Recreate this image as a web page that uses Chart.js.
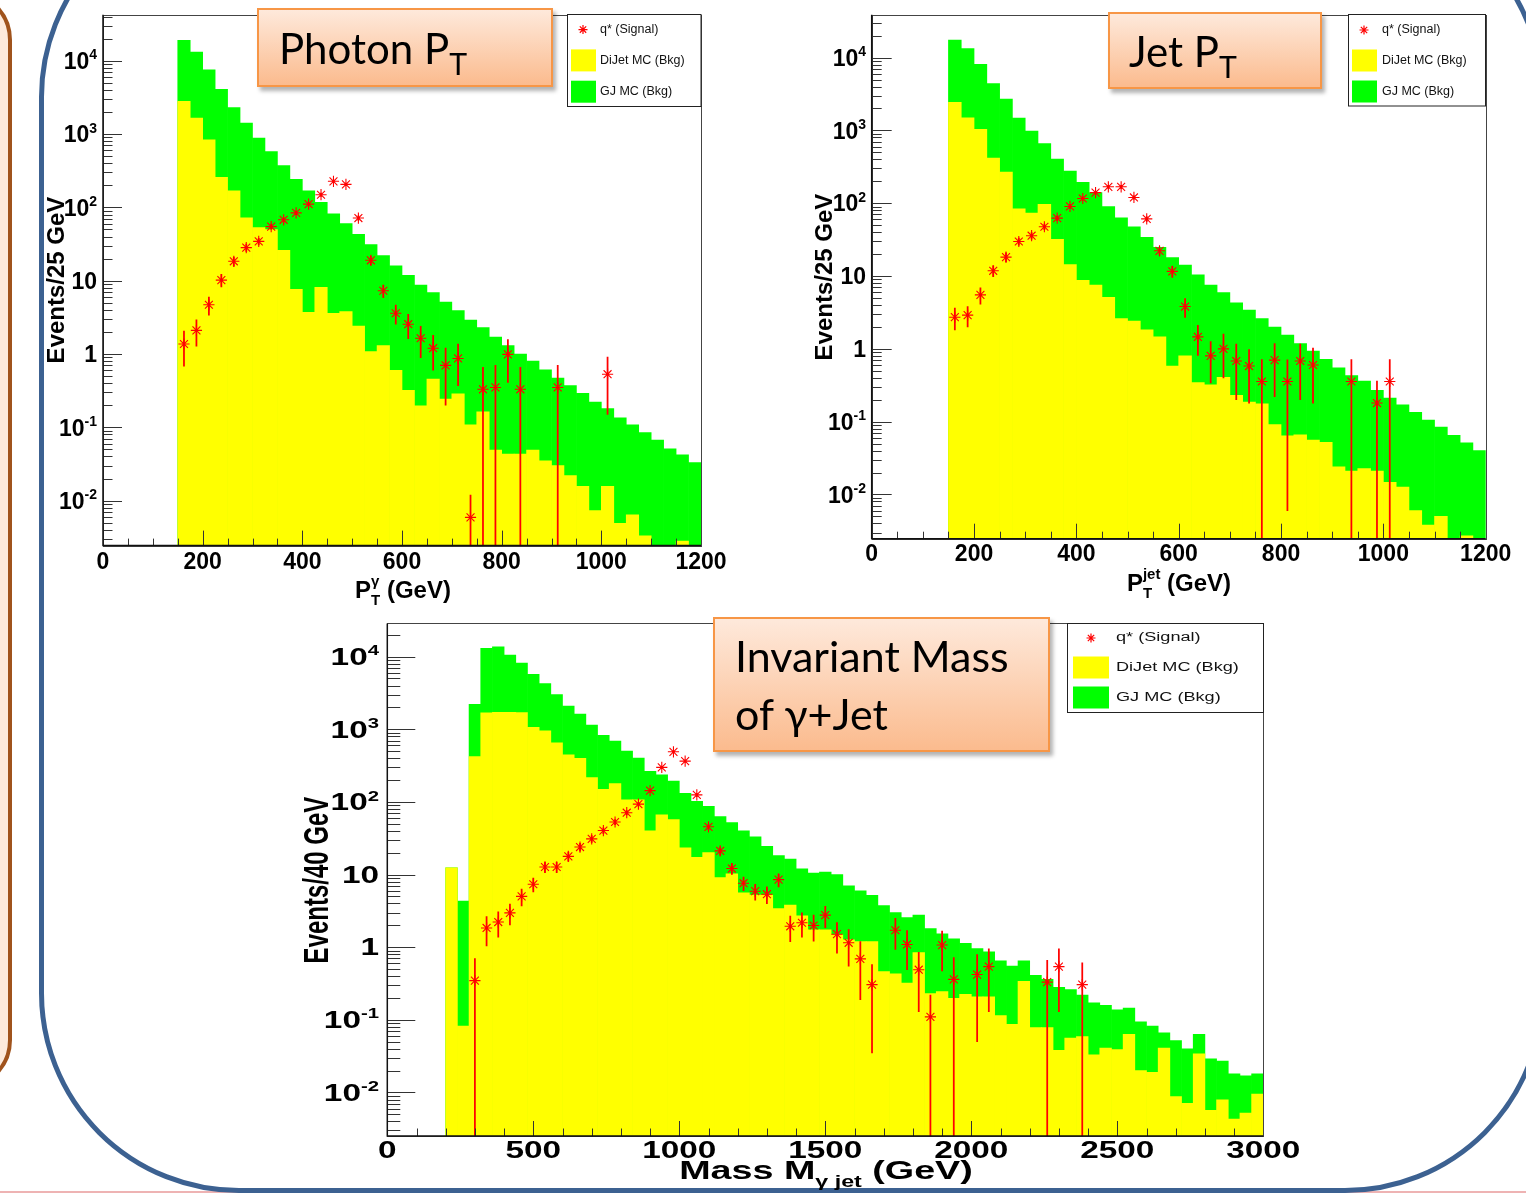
<!DOCTYPE html>
<html>
<head>
<meta charset="utf-8">
<script src="https://cdn.jsdelivr.net/npm/chart.js@4.4.1/dist/chart.umd.min.js"></script>
<style>
	body { margin: 0; width: 1526px; height: 1193px; overflow: hidden; background: #fff; position: relative; }
	canvas { position: absolute; left: 0; top: 0; }
	.side { position: absolute; left: -200px; top: -10px; width: 204px; height: 1092px; border: 4px solid #a0531c; border-radius: 50px; background: #fdeadb; box-sizing: content-box; }
	.frame { position: absolute; left: 39px; top: -103px; width: 1496px; height: 1286px; border: 5px solid #3c6191; border-radius: 200px; }
	.pink { position: absolute; left: 0; top: 1191px; width: 1526px; height: 2px; background: #eeb3b3; }
	.tag { position: absolute; box-sizing: border-box; border: 2px solid #f79646; background: linear-gradient(#fee9db, #fbbb8e); box-shadow: 3px 4px 4px rgba(0, 0, 0, 0.3); font-family: Lato, "Open Sans", sans-serif; color: #000; z-index: 5; display: flex; align-items: center; }
	.tag sub { font-size: 0.72em; vertical-align: -0.36em; line-height: 0; }
</style>
</head>
<body>
<div class="side"></div>
<div class="pink"></div>
<div class="frame"></div>
<canvas id="photonChart" width="1526" height="1193"></canvas>
<canvas id="jetChart" width="1526" height="1193"></canvas>
<canvas id="massChart" width="1526" height="1193"></canvas>
<div class="tag" style="left:257px; top:8px; width:296px; height:79px; padding-left:20px; font-size:42px;"><span>Photon P<sub>T</sub></span></div>
<div class="tag" style="left:1108px; top:12px; width:214px; height:77px; padding-left:19px; font-size:42px;"><span>Jet P<sub>T</sub></span></div>
<div class="tag" style="left:713px; top:617px; width:337px; height:135px; padding-left:20px; font-size:43px; line-height:58px;"><span>Invariant Mass<br>of γ+Jet</span></div>
<script>
// ---- Photon pT: 25 GeV bins starting at 150 GeV ----
const photonBinStart = 150;
const photonBinWidth = 25;
const photonTotal = [19100, 13200, 7550, 4080, 2300, 1420, 883, 580, 373, 242, 168, 117, 82, 60, 43, 31, 22, 16,
	11.8, 8.7, 6.9, 5.1, 3.9, 2.9, 2.3, 1.7, 1.3, 1.0, 0.80, 0.61, 0.47, 0.37, 0.29, 0.22, 0.18, 0.135, 0.108, 0.085,
	0.067, 0.051, 0.042, 0.033];
const photonDiJet = [2800, 1650, 837, 258, 168, 72, 53, 50, 26, 7.6, 3.7, 8.1, 3.6, 3.8, 2.4, 1.08, 1.3, 0.6,
	0.32, 0.196, 0.455, 0.243, 0.286, 0.108, 0.162, 0.049, 0.043, 0.043, 0.049, 0.035, 0.030, 0.022, 0.0156, 0.0073,
	0.0156, 0.0049, 0.0064, 0.0033, null, null, 0.0028, null];
const photonSignal = [1.37, 2.1, 4.7, 10.2, 18.4, 28.3, 34.4, 54.7, 67.8, 84.2, 111, 149, 227, 206, 71.6, 19, 7.3, 3.6,
	2.55, 1.64, 1.2, 0.70, 0.87, 0.0059, 0.33, 0.35, 0.99, 0.33, null, null, 0.35, null, null, null, 0.53, null, null,
	null, null, null, null, null];
const photonSignalErr = [0.69, 0.82, 1.3, 2.0, 2.6, 3.2, 3.5, 4.4, 4.9, 5.5, 6.3, 7.3, 9.0, 8.6, 5.1, 2.6, 1.45, 1.05,
	0.93, 0.75, 0.6, 0.5, 0.5, 0.006, 0.33, 0.35, 0.58, 0.33, null, null, 0.35, null, null, null, 0.38, null, null,
	null, null, null, null, null];

// ---- Jet pT: 25 GeV bins starting at 150 GeV ----
const jetBinStart = 150;
const jetBinWidth = 25;
const jetTotal = [17460, 13300, 8060, 4385, 2690, 1478, 977, 661, 405, 277, 193, 140, 90, 63, 47.5, 34, 24.7, 17.9,
	14.1, 10.4, 7.5, 5.9, 4.3, 3.4, 2.6, 1.99, 1.55, 1.18, 0.93, 0.72, 0.55, 0.43, 0.36, 0.27, 0.21, 0.17, 0.134,
	0.105, 0.084, 0.065, 0.051, 0.040];
const jetDiJet = [2440, 1494, 1032, 418, 268, 83.7, 73.4, 96.4, 31.8, 14.4, 8.7, 7.5, 5.1, 2.6, 2.4, 1.82, 1.46, 0.58,
	0.80, 0.344, 0.319, 0.405, 0.230, 0.185, 0.175, 0.091, 0.064, 0.066, 0.056, 0.052, 0.024, 0.021, 0.0227, 0.021,
	0.0147, 0.0126, 0.0060, 0.0038, 0.0050, null, 0.0027, null];
const jetSignal = [2.72, 2.9, 5.5, 11.8, 18.2, 29.8, 35.8, 47.5, 62.4, 90.3, 116, 140, 168, 168, 120, 61, 22.2, 11.6,
	3.81, 1.46, 0.80, 1.0, 0.68, 0.58, 0.356, 0.70, 0.356, 0.68, 0.60, null, null, 0.356, null, 0.18, 0.356, null,
	null, null, null, null, null, null];
const jetSignalErr = [0.9, 0.9, 1.4, 2.0, 2.6, 3.3, 3.6, 4.1, 4.7, 5.7, 6.5, 7.1, 7.8, 7.8, 6.6, 4.7, 2.8, 2.0,
	1.1, 0.65, 0.46, 0.6, 0.48, 0.4, 0.356, 0.48, 0.35, 0.48, 0.42, null, null, 0.356, null, 0.18, 0.356, null,
	null, null, null, null, null, null];

// ---- Invariant mass: 40 GeV bins starting at 200 GeV ----
const massBinStart = 200;
const massBinWidth = 40;
const massTotal = [12.4, 4.31, 2200, 13000, 13600, 10500, 8150, 5690, 4240, 2990, 2080, 1620, 1144, 825, 686, 500,
	402, 263, 236, 194, 131, 102, 87, 63, 52, 40, 33, 24.4, 18.2, 16.3, 12.0, 10.5, 10.8, 10.0, 7.0, 5.98, 5.19,
	3.74, 3.0, 2.55, 2.76, 1.80, 1.53, 1.30, 1.13, 0.96, 0.86, 0.65, 0.55, 0.65, 0.41, 0.36, 0.28, 0.26, 0.22,
	0.171, 0.158, 0.137, 0.145, 0.094, 0.082, 0.066, 0.052, 0.040, 0.063, 0.029, 0.027, 0.018, 0.017, 0.018];
const massDiJet = [12.4, 0.082, 420, 1676, 1714, 1714, 1690, 1061, 951, 650, 444, 397, 216, 149, 179, 107, 107, 40,
	66.5, 57, 23.4, 17.2, 20, 9.1, 10.2, 5.6, 5.2, 5.2, 3.4, 3.8, 2.7, 1.74, 1.74, 1.48, 1.26, 1.19, 1.19, 0.46,
	0.43, 0.32, 0.84, 0.23, 0.245, 0.197, 0.225, 0.208, 0.208, 0.114, 0.087, 0.34, 0.078, 0.078, 0.038, 0.056,
	0.059, 0.033, 0.041, 0.039, 0.063, 0.020, 0.019, 0.041, 0.0088, 0.0071, 0.034, 0.0057, 0.0079, 0.0043, 0.0052,
	0.0095];
const massSignal = [null, null, 0.347, 1.84, 2.22, 2.97, 5.0, 7.35, 12.7, 12.7, 17.8, 23.9, 31, 40.3, 52.9, 71, 93.3,
	143, 299, 489, 364, 125, 45.4, 21.2, 12.1, 7.6, 5.9, 5.36, 8.5, 1.94, 2.17, 1.99, 2.76, 1.51, 1.15, 0.69, 0.305,
	null, 1.71, 1.09, 0.49, 0.11, 1.07, 0.36, null, 0.42, 0.54, null, null, null, null, 0.33, 0.54, null, 0.305,
	null, null, null, null, null, null, null, null, null, null, null, null, null, null, null];
const massSignalErr = [null, null, 0.35, 0.8, 0.85, 0.95, 1.3, 1.6, 2.1, 2.1, 2.5, 2.9, 3.3, 3.8, 4.3, 5.0, 5.7,
	7.1, 10.3, 13.2, 11.4, 6.7, 4.0, 2.7, 2.1, 1.6, 1.45, 1.4, 1.75, 0.75, 0.8, 0.78, 0.9, 0.68, 0.6, 0.5, 0.27,
	null, 0.78, 0.6, 0.36, 0.11, 0.6, 0.36, null, 0.37, 0.41, null, null, null, null, 0.33, 0.41, null, 0.305,
	null, null, null, null, null, null, null, null, null, null, null, null, null, null, null];

const GREEN = "#00ff00";
const YELLOW = "#ffff00";
const RED = "#ff0000";
const FONT = '"Liberation Sans", Arial, Helvetica, sans-serif';

function binCenters(start, width, n) {
	const xs = [];
	for (let i = 0; i < n; i++) xs.push(start + width * (i + 0.5));
	return xs;
}

function histDatasets(start, width, total, dijet, signal, sigErr) {
	const xs = binCenters(start, width, total.length);
	const pick = (arr) => xs.map((x, i) => ({ x: x, y: arr[i] })).filter((p) => p.y !== null);
	const errs = [];
	xs.forEach((x, i) => {
		if (signal[i] === null) return;
		const lo = signal[i] - sigErr[i];
		errs.push({ x: x, y: [lo > 0 ? lo : 1e-6, signal[i] + sigErr[i]] });
	});
	const barOpts = { grouped: false, barPercentage: 1, categoryPercentage: 1, borderWidth: 0, clip: 0 };
	return [
		Object.assign({ type: "bar", label: "GJ MC (Bkg)", data: pick(total), backgroundColor: GREEN, order: 3 }, barOpts),
		Object.assign({ type: "bar", label: "DiJet MC (Bkg)", data: pick(dijet), backgroundColor: YELLOW, order: 2 }, barOpts),
		Object.assign({ type: "bar", label: "err", data: errs, backgroundColor: RED, maxBarThickness: 1.1, order: 1 }, barOpts),
		{ type: "scatter", label: "q* (Signal)", data: pick(signal), pointStyle: "star", pointRadius: 5.6,
			borderColor: RED, backgroundColor: RED, borderWidth: 1.1, order: 0, clip: 0 },
	];
}

function text(ctx, s, x, y, size, align, sx, weight) {
	ctx.save();
	ctx.translate(x, y);
	ctx.scale(sx, 1);
	ctx.font = (weight || "bold") + " " + size + "px " + FONT;
	ctx.textAlign = align;
	ctx.textBaseline = "middle";
	ctx.fillText(s, 0, 0);
	ctx.restore();
}

// draws text pieces (sub/superscripts) centred on cx, baseline cy
function richText(ctx, segs, cx, cy, sx) {
	let x = 0, prevStart = 0, prevW = 0;
	const placed = [];
	segs.forEach((s) => {
		ctx.font = "bold " + s.size + "px " + FONT;
		const w = ctx.measureText(s.t).width;
		if (s.stack) {
			placed.push({ s: s, x: prevStart });
			prevW = Math.max(prevW, w);
			x = prevStart + prevW;
		} else {
			placed.push({ s: s, x: x });
			prevStart = x;
			prevW = w;
			x += w;
		}
	});
	ctx.save();
	ctx.translate(cx, cy);
	ctx.scale(sx, 1);
	ctx.textAlign = "left";
	ctx.textBaseline = "alphabetic";
	placed.forEach((p) => {
		ctx.font = "bold " + p.s.size + "px " + FONT;
		ctx.fillText(p.s.t, p.x - x / 2, p.s.dy || 0);
	});
	ctx.restore();
}

function powLabel(ctx, e, xr, y, size, sx) {
	ctx.save();
	ctx.translate(xr, y);
	ctx.scale(sx, 1);
	ctx.textAlign = "right";
	ctx.textBaseline = "alphabetic";
	const base = e === 0 ? "1" : "10";
	const sup = e === 0 || e === 1 ? "" : String(e);
	let sw = 0;
	if (sup) {
		ctx.font = "bold " + Math.round(size * 0.62) + "px " + FONT;
		sw = ctx.measureText(sup).width;
		ctx.fillText(sup, 0, -size * 0.06);
	}
	ctx.font = "bold " + size + "px " + FONT;
	ctx.fillText(base, -sw, size * 0.36);
	ctx.restore();
}

function asterisk(ctx, x, y, r) {
	ctx.beginPath();
	for (let k = 0; k < 4; k++) {
		const a = (k * Math.PI) / 4;
		ctx.moveTo(x - r * Math.cos(a), y - r * Math.sin(a));
		ctx.lineTo(x + r * Math.cos(a), y + r * Math.sin(a));
	}
	ctx.stroke();
}

function drawLegend(ctx, L, sx) {
	ctx.fillStyle = "#fff";
	ctx.fillRect(L.x, L.y, L.w, L.h);
	ctx.strokeStyle = "#222";
	ctx.lineWidth = 1;
	ctx.strokeRect(L.x, L.y, L.w, L.h);
	ctx.strokeStyle = RED;
	ctx.lineWidth = 1.2;
	asterisk(ctx, L.mk, L.rows[0], 4.5);
	ctx.fillStyle = YELLOW;
	ctx.fillRect(L.sw[0], L.rows[1] - L.swH / 2, L.sw[1] - L.sw[0], L.swH);
	ctx.fillStyle = GREEN;
	ctx.fillRect(L.sw[0], L.rows[2] - L.swH / 2, L.sw[1] - L.sw[0], L.swH);
	ctx.fillStyle = "#111";
	["q* (Signal)", "DiJet MC (Bkg)", "GJ MC (Bkg)"].forEach((s, i) => {
		text(ctx, s, L.tx, L.rows[i], L.size, "left", sx, "normal");
	});
}

function rootFrame(cfg) {
	return {
		id: "rootFrame",
		afterDatasetsDraw(chart) {
			const { ctx, chartArea: a, scales } = chart;
			const x = scales.x, y = scales.y;
			ctx.save();
			// ticks on the y axis (log)
			ctx.strokeStyle = "#333";
			ctx.lineWidth = 1;
			ctx.beginPath();
			const eLo = Math.floor(Math.log10(y.min)), eHi = Math.ceil(Math.log10(y.max));
			for (let e = eLo; e <= eHi; e++) {
				for (let m = 1; m <= 9; m++) {
					const v = m * Math.pow(10, e);
					if (v < y.min || v > y.max) continue;
					const py = Math.round(y.getPixelForValue(v)) + 0.5;
					const len = m === 1 ? cfg.yMajorLen : cfg.yMinorLen;
					ctx.moveTo(a.left, py);
					ctx.lineTo(a.left + len, py);
				}
			}
			// ticks on the x axis
			for (let v = 0; v <= cfg.xMax; v += cfg.xMinor) {
				const px = Math.round(x.getPixelForValue(v)) + 0.5;
				const len = v % cfg.xMajor === 0 ? cfg.xMajorLen : cfg.xMinorLen;
				ctx.moveTo(px, a.bottom);
				ctx.lineTo(px, a.bottom - len);
			}
			ctx.stroke();
			// frame
			ctx.strokeStyle = "#444";
			ctx.strokeRect(Math.round(a.left) + 0.5, Math.round(a.top) + 0.5, Math.round(a.right - a.left), Math.round(a.bottom - a.top));
			ctx.strokeStyle = "#111";
			ctx.lineWidth = 1.5;
			ctx.beginPath();
			ctx.moveTo(a.left, a.top);
			ctx.lineTo(a.left, a.bottom);
			ctx.lineTo(a.right, a.bottom);
			ctx.stroke();

			// tick labels
			ctx.fillStyle = "#000";
			for (let e = eLo; e <= eHi; e++) {
				const v = Math.pow(10, e);
				if (v < y.min || v > y.max) continue;
				powLabel(ctx, e, cfg.yLabelRight, y.getPixelForValue(v), cfg.labelSize, cfg.sx);
			}
			for (let v = 0; v <= cfg.xMax; v += cfg.xMajor) {
				text(ctx, String(v), x.getPixelForValue(v), cfg.xLabelY, cfg.labelSize, "center", cfg.sx);
			}
			// axis titles
			richText(ctx, cfg.xTitle, cfg.xTitlePos[0], cfg.xTitlePos[1], cfg.sx);
			ctx.save();
			ctx.translate(cfg.yTitlePos[0], cfg.yTitlePos[1]);
			ctx.scale(cfg.sx, 1);
			ctx.rotate(-Math.PI / 2);
			ctx.font = "bold " + cfg.titleSize + "px " + FONT;
			ctx.textAlign = "center";
			ctx.textBaseline = "middle";
			ctx.fillText(cfg.yTitle, 0, 0);
			ctx.restore();

			drawLegend(ctx, cfg.legend, cfg.sx);
			ctx.restore();
		},
	};
}

function makeChart(id, cfg, datasets) {
	const W = 1526, H = 1193;
	return new Chart(document.getElementById(id), {
		type: "bar",
		data: { datasets: datasets },
		options: {
			responsive: false,
			animation: false,
			events: [],
			layout: { padding: { left: cfg.area[0], top: cfg.area[1], right: W - cfg.area[2], bottom: H - cfg.area[3] } },
			plugins: { legend: { display: false }, tooltip: { enabled: false } },
			scales: {
				x: { type: "linear", display: false, min: 0, max: cfg.xMax, offset: false, bounds: "data",
					ticks: { stepSize: cfg.xMajor } },
				y: { type: "logarithmic", display: false, min: cfg.yMin, max: cfg.yMax, bounds: "data" },
			},
		},
		plugins: [rootFrame(cfg)],
	});
}

makeChart("photonChart", {
	area: [103, 14.8, 701, 545.6], yMin: Math.pow(10, -2.614), yMax: Math.pow(10, 4.628),
	xMax: 1200, xMajor: 200, xMinor: 50, yMajorLen: 19, yMinorLen: 9.5, xMajorLen: 15, xMinorLen: 7,
	sx: 1, labelSize: 23, titleSize: 24, yLabelRight: 97, xLabelY: 563,
	xTitle: [{ t: "P", size: 24 }, { t: "T", size: 15, dy: 7 }, { t: "γ", size: 15, dy: -12, stack: true }, { t: " (GeV)", size: 24 }],
	xTitlePos: [403, 598], yTitle: "Events/25 GeV", yTitlePos: [57, 280],
	legend: { x: 567.5, y: 14.5, w: 133.5, h: 92, rows: [29.6, 60.4, 91.7], mk: 583, sw: [571, 596], swH: 22, tx: 600, size: 12.5 },
}, histDatasets(photonBinStart, photonBinWidth, photonTotal, photonDiJet, photonSignal, photonSignalErr));

makeChart("jetChart", {
	area: [871.7, 14.8, 1485.7, 538.7], yMin: Math.pow(10, -2.608), yMax: Math.pow(10, 4.588),
	xMax: 1200, xMajor: 200, xMinor: 50, yMajorLen: 20, yMinorLen: 10, xMajorLen: 15, xMinorLen: 7,
	sx: 1, labelSize: 23, titleSize: 24, yLabelRight: 866, xLabelY: 555,
	xTitle: [{ t: "P", size: 24 }, { t: "T", size: 15, dy: 7 }, { t: "jet", size: 15, dy: -12, stack: true }, { t: " (GeV)", size: 24 }],
	xTitlePos: [1179, 591], yTitle: "Events/25 GeV", yTitlePos: [825, 277],
	legend: { x: 1348.5, y: 14.5, w: 137, h: 91.5, rows: [30, 60.5, 91.5], mk: 1364, sw: [1352, 1377], swH: 22, tx: 1382, size: 12.5 },
}, histDatasets(jetBinStart, jetBinWidth, jetTotal, jetDiJet, jetSignal, jetSignalErr));

makeChart("massChart", {
	area: [387.3, 623.4, 1263.3, 1136], yMin: Math.pow(10, -2.599), yMax: Math.pow(10, 4.457),
	xMax: 3000, xMajor: 500, xMinor: 100, yMajorLen: 28, yMinorLen: 13, xMajorLen: 15, xMinorLen: 7.5,
	sx: 1.45, labelSize: 23, titleSize: 24, yLabelRight: 379, xLabelY: 1152,
	xTitle: [{ t: "Mass M", size: 26 }, { t: "γ jet", size: 16, dy: 8 }, { t: " (GeV)", size: 26 }],
	xTitlePos: [826, 1179], yTitle: "Events/40 GeV", yTitlePos: [318, 880],
	legend: { x: 1067.5, y: 623.5, w: 196, h: 89, rows: [638, 667.5, 697.5], mk: 1091, sw: [1073, 1109], swH: 22, tx: 1116, size: 12.5 },
}, histDatasets(massBinStart, massBinWidth, massTotal, massDiJet, massSignal, massSignalErr));
</script>
</body>
</html>
